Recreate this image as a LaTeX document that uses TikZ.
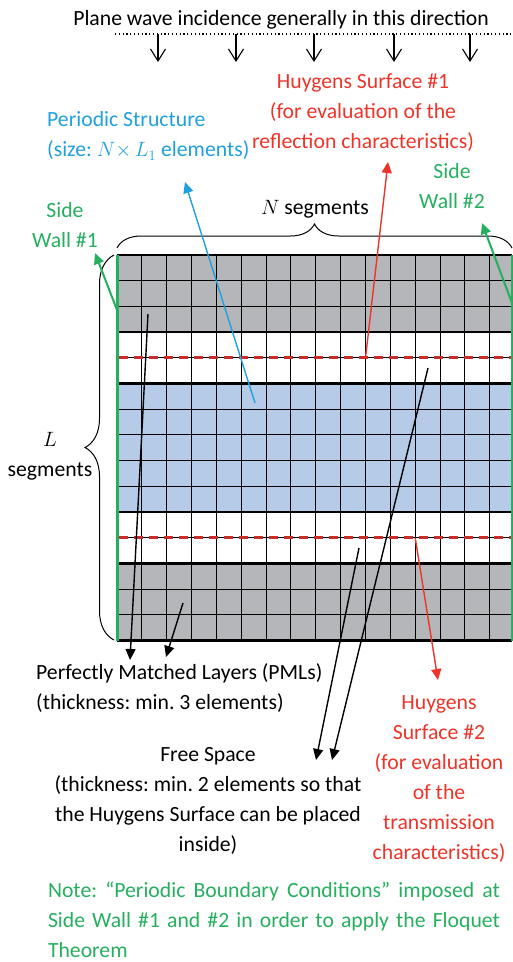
\documentclass[tikz,border=0pt]{standalone}
\usepackage{fontspec}
\setmainfont{Carlito}
\usetikzlibrary{arrows.meta, decorations.pathreplacing}
\definecolor{PMLGray}{RGB}{181,182,186}
\definecolor{CellBlue}{RGB}{182,203,232}
\definecolor{HuygensRed}{RGB}{238,52,40}
\definecolor{SurfaceRed}{RGB}{200,45,42}
\definecolor{WallGreen}{RGB}{38,175,95}
\definecolor{StructBlue}{RGB}{32,160,222}

\begin{document}
\frenchspacing
\begin{tikzpicture}[x=1pt, y=-1pt,
    lbl/.style={font=\fontsize{21.7}{30}\selectfont, align=center, inner sep=0pt},
    pointer/.style={line width=1.4pt, -{Triangle[length=11pt,width=10pt]}},
    wave/.style={line width=1.1pt, -{Straight Barb[length=12pt,width=15pt]}},
    cellline/.style={line width=1pt},
    layerline/.style={line width=2.6pt},
    huygens/.style={SurfaceRed, line width=3pt, dash pattern=on 9pt off 6pt},
    wall/.style={WallGreen, line width=3pt},
    segbrace/.style={decorate, decoration={brace, amplitude=#1}, line width=1pt}]
    \useasboundingbox (0,0) rectangle (512,962);

    % Incident wave
    \node[lbl] (incidence) at (281,20) {Plane wave incidence generally in this direction};
    \draw[line width=1.2pt, dash pattern=on 1.2pt off 2.6pt] (115,34) -- (512,34);
    \foreach \x [count=\i] in {158,236,314,394,470} {
      \coordinate (wt\i) at (\x,34);
      \coordinate (wb\i) at (\x,62);
      \draw[wave] (wt\i) -- (wb\i);
    }

    % Computational grid (cells 24.85 x 25.71)
    \begin{scope}[shift={(117,255)}, x=24.85pt, y=-25.71pt]
      \def\gridR{15.9}
      \fill[PMLGray] (0,0) rectangle (\gridR,3);
      \fill[CellBlue] (0,5) rectangle (\gridR,10);
      \fill[PMLGray] (0,12) rectangle (\gridR,15);
      \foreach \i in {1,...,15}
        \draw[cellline] (\i,0) -- (\i,15);
      \foreach \j in {1,2,4,6,7,8,9,11,13,14}
        \draw[cellline] (0,\j) -- (\gridR,\j);
      \foreach \j in {0,3,5,10,12,15}
        \draw[layerline] (0,\j) -- (\gridR,\j);
      % Huygens surfaces
      \draw[huygens] (0.1,4) -- (\gridR,4);
      \draw[huygens] (0.1,11) -- (\gridR,11);
      % Side walls
      \draw[wall] (0,0) -- (0,15);
      \draw[wall] (\gridR,0) -- (\gridR,15);
      \coordinate (hs1) at (10,4);
      \coordinate (hs2) at (12,11);
    \end{scope}

    % Segment braces
    \draw[segbrace=24pt] (117,248) -- (512,248);
    \draw[segbrace=29pt] (114,640) -- (114,255);
    \node[lbl] (nseg) at (315,209) {$N$ segments};
    \node[lbl] (lseg) at (50,456) {$L$\\segments};

    % Labels above the grid
    \node[lbl, text=HuygensRed] (hs1lbl) at (363,113)
      {Huygens Surface \#1\\(for evaluation of the\\reflection characteristics)};
    \node[lbl, text=StructBlue, align=left, anchor=west] (perlbl) at (47,136)
      {Periodic Structure\\(size: $N{\times}\,L_1$ elements)};
    \node[lbl, text=WallGreen] (wall1lbl) at (65,225) {Side\\Wall \#1};
    \node[lbl, text=WallGreen] (wall2lbl) at (452,186) {Side\\Wall \#2};

    % Labels below the grid
    \node[lbl, align=left, anchor=west] (pmllbl) at (36,688)
      {Perfectly Matched Layers (PMLs)\\(thickness: min. 3 elements)};
    \node[lbl] (fslbl) at (208,801)
      {Free Space\\(thickness: min. 2 elements so that\\the Huygens Surface can be placed\\inside)};
    \node[lbl, text=HuygensRed] (hs2lbl) at (439,779)
      {Huygens\\Surface \#2\\(for evaluation\\of the\\transmission\\characteristics)};
    \node[lbl, text=WallGreen, text width=452pt, align=justify] (note) at (274,920)
      {Note: “Periodic Boundary Conditions” imposed at\linebreak
       Side Wall \#1 and \#2 in order to apply the Floquet\linebreak Theorem};

    % Pointer ends
    \coordinate (pstail) at (255,403);   \coordinate (pshead) at (185,182);
    \coordinate (hs1head) at (388,162);  \coordinate (hs2head) at (438,680);
    \coordinate (w1tail) at (117,310);   \coordinate (w1head) at (95,253);
    \coordinate (w2tail) at (512,303);   \coordinate (w2head) at (482,223);
    \coordinate (pmlatail) at (148,314); \coordinate (pmlahead) at (130,660);
    \coordinate (pmlbtail) at (183,603); \coordinate (pmlbhead) at (166,657);
    \coordinate (fsatail) at (359,548);  \coordinate (fsahead) at (316,760);
    \coordinate (fsbtail) at (428,368);  \coordinate (fsbhead) at (332,760);

    % Pointers
    \draw[pointer, StructBlue] (pstail) -- (pshead);
    \draw[pointer, HuygensRed] (hs1) -- (hs1head);
    \draw[pointer, HuygensRed] (hs2) -- (hs2head);
    \draw[pointer, WallGreen, line width=2pt] (w1tail) -- (w1head);
    \draw[pointer, WallGreen, line width=2pt] (w2tail) -- (w2head);
    \draw[pointer] (pmlatail) -- (pmlahead);
    \draw[pointer] (pmlbtail) -- (pmlbhead);
    \draw[pointer] (fsatail) -- (fsahead);
    \draw[pointer] (fsbtail) -- (fsbhead);
\end{tikzpicture}
\end{document}
